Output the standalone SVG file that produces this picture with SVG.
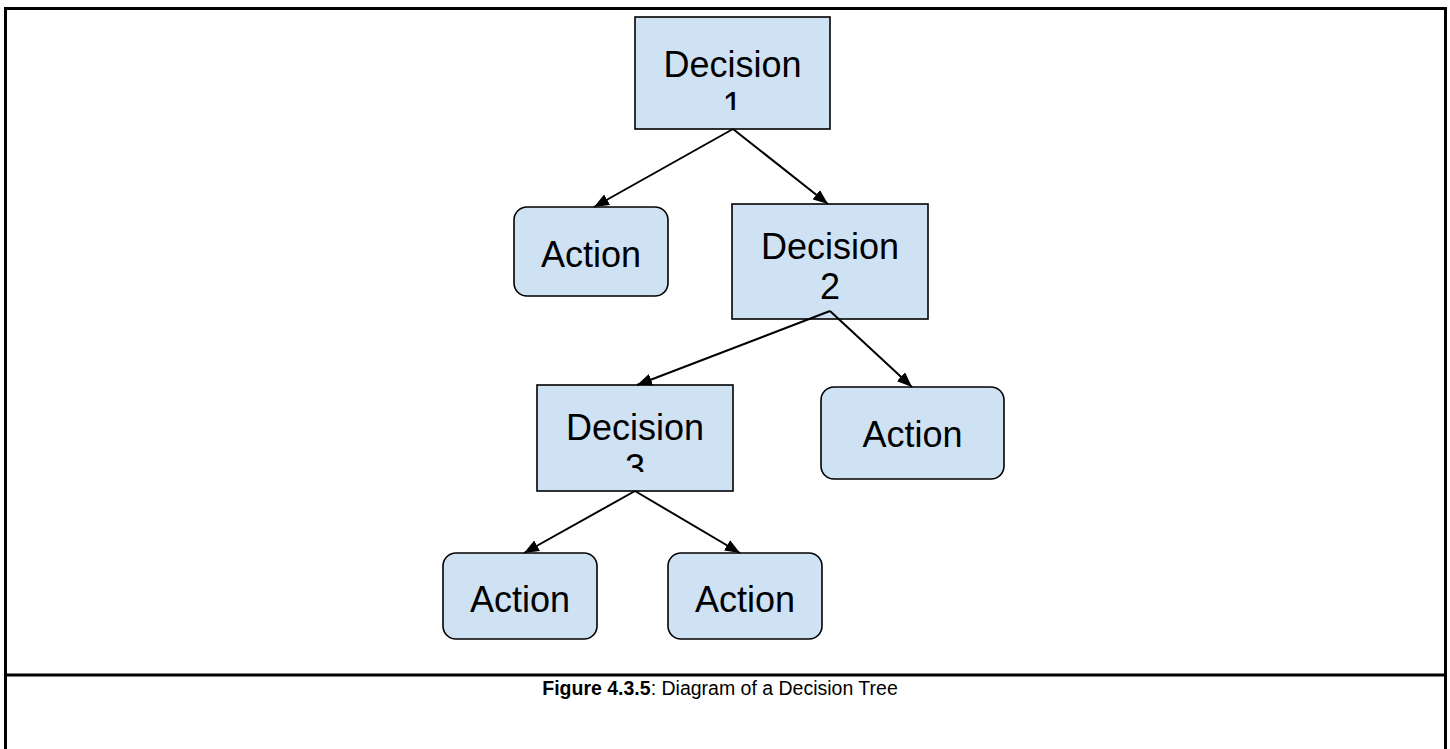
<svg xmlns="http://www.w3.org/2000/svg" width="1450" height="749" viewBox="0 0 1450 749">
<style>
.box{fill:#cfe2f3;stroke:#000;stroke-width:1.6}
.lbl{font-family:"Liberation Sans",Arial,sans-serif;font-size:36px;fill:#000;text-anchor:middle}
.edge{stroke:#000;stroke-width:2;fill:none;marker-end:url(#arr)}
.frame{stroke:#000;stroke-width:3;fill:none}
.cap{font-family:"Liberation Sans",Arial,sans-serif;font-size:19.5px;fill:#000;text-anchor:middle}
</style>
<defs>
<marker id="arr" viewBox="0 0 15 12" refX="15" refY="6" markerWidth="15" markerHeight="12" markerUnits="userSpaceOnUse" orient="auto">
<path d="M0,0 L15,6 L0,12 z" fill="#000"/>
</marker>
<clipPath id="c1"><rect x="635" y="17" width="195" height="93"/></clipPath>
<clipPath id="c2"><rect x="732" y="204" width="196" height="97"/></clipPath>
<clipPath id="c3"><rect x="537" y="385" width="196" height="87"/></clipPath>
</defs>
<rect width="1450" height="749" fill="#fff"/>
<g id="frame">
<path class="frame" d="M5.5,749 V8.5 H1445.5 V749"/>
<path class="frame" d="M5.5,675 H1445.5"/>
</g>
<g id="decision1">
<rect class="box" x="635" y="17" width="195" height="112"/>
<text class="lbl" clip-path="url(#c1)"><tspan x="732.5" y="77">Decision</tspan><tspan x="732.5" y="118">1</tspan></text>
</g>
<g id="action1">
<rect class="box" x="514" y="207" width="154" height="89" rx="13"/>
<text class="lbl" x="591" y="267">Action</text>
</g>
<g id="decision2">
<rect class="box" x="732" y="204" width="196" height="115"/>
<text class="lbl" clip-path="url(#c2)"><tspan x="830" y="259">Decision</tspan><tspan x="830" y="299">2</tspan></text>
</g>
<g id="decision3">
<rect class="box" x="537" y="385" width="196" height="106"/>
<text class="lbl" clip-path="url(#c3)"><tspan x="635" y="440">Decision</tspan><tspan x="635" y="480">3</tspan></text>
</g>
<g id="action2">
<rect class="box" x="821" y="387" width="183" height="92" rx="13"/>
<text class="lbl" x="912.5" y="447">Action</text>
</g>
<g id="action3">
<rect class="box" x="443" y="553" width="154" height="86" rx="13"/>
<text class="lbl" x="520" y="612">Action</text>
</g>
<g id="action4">
<rect class="box" x="668" y="553" width="154" height="86" rx="13"/>
<text class="lbl" x="745" y="612">Action</text>
</g>
<g id="connectors">
<line class="edge" x1="733" y1="129" x2="594" y2="207"/>
<line class="edge" x1="733" y1="129" x2="828" y2="204"/>
<line class="edge" x1="830" y1="311" x2="637" y2="385"/>
<line class="edge" x1="830" y1="311" x2="912" y2="387"/>
<line class="edge" x1="635" y1="491" x2="524" y2="553"/>
<line class="edge" x1="635" y1="491" x2="740" y2="553"/>
</g>
<g id="caption">
<text class="cap" x="720" y="695"><tspan font-weight="bold">Figure 4.3.5</tspan>: Diagram of a Decision Tree</text>
</g>
</svg>
